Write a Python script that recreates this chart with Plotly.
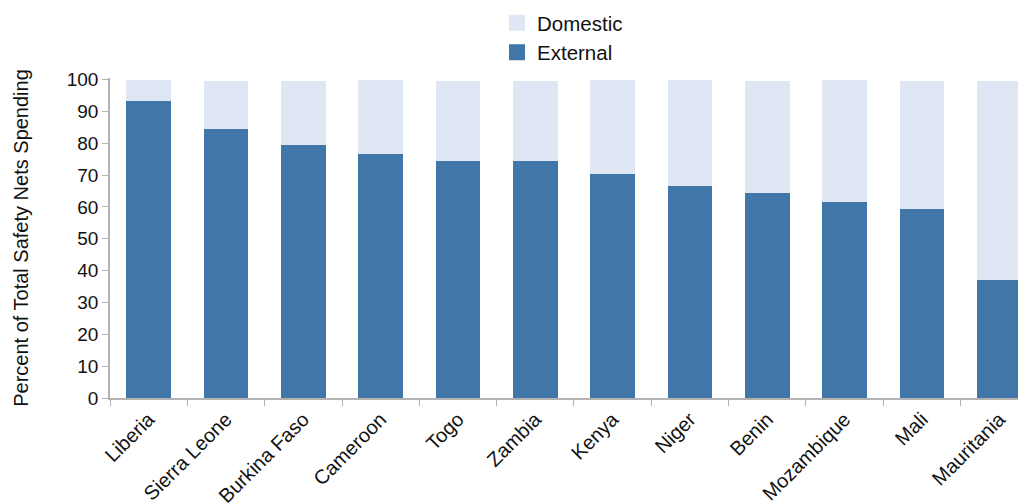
import plotly.graph_objects as go

countries = ["Liberia", "Sierra Leone", "Burkina Faso", "Cameroon", "Togo", "Zambia",
             "Kenya", "Niger", "Benin", "Mozambique", "Mali", "Mauritania"]
external = [93.4, 84.4, 79.4, 76.6, 74.4, 74.4, 70.3, 66.6, 64.4, 61.6, 59.4, 37.2]
domestic = [6.6, 15.1, 20.1, 23.4, 25.1, 25.1, 29.7, 33.4, 35.1, 38.4, 40.1, 62.3]
y_ticks = [0, 10, 20, 30, 40, 50, 60, 70, 80, 90, 100]

FONT = "Liberation Sans, Arial, Helvetica, sans-serif"
C_EXT = "#4177a8"
C_DOM = "#e0e7f4"

fig = go.Figure()
fig.add_trace(go.Bar(x=countries, y=external, name="External", showlegend=False,
                     marker=dict(color=C_EXT, line=dict(width=0)), width=0.58))
fig.add_trace(go.Bar(x=countries, y=domestic, name="Domestic", showlegend=False,
                     marker=dict(color=C_DOM, line=dict(width=0)), width=0.58))
# legend entries with larger square swatches
fig.add_trace(go.Scatter(x=[None], y=[None], mode="markers", name="Domestic",
                         marker=dict(symbol="square", size=18, color=C_DOM)))
fig.add_trace(go.Scatter(x=[None], y=[None], mode="markers", name="External",
                         marker=dict(symbol="square", size=18, color=C_EXT)))

fig.update_layout(
    barmode="stack",
    width=1026, height=504,
    margin=dict(l=102, r=8, t=70, b=114, autoexpand=False),
    paper_bgcolor="white", plot_bgcolor="white",
    font=dict(family=FONT, size=19, color="#111111"),
    legend=dict(orientation="v", traceorder="normal", itemsizing="trace", x=0.4225,
                xanchor="left", y=1.235, yanchor="top", font=dict(size=20.5),
                bgcolor="rgba(0,0,0,0)", itemwidth=30),
    xaxis=dict(range=[-0.5, 11.345], showline=True, linecolor="#b3b3b3", linewidth=1.5,
               ticks="outside", tickson="boundaries", ticklen=6, tickcolor="#b3b3b3",
               tickangle=-45, tickfont=dict(size=20), showgrid=False),
    yaxis=dict(range=[0, 100.5], tickvals=y_ticks, showline=True, linecolor="#b3b3b3",
               linewidth=1.5, ticks="outside", ticklen=6, tickcolor="#b3b3b3",
               tickfont=dict(size=19), showgrid=False, zeroline=False,
               title=dict(text="Percent of Total Safety Nets Spending", font=dict(size=20),
                          standoff=33)),
)

fig.write_html("out.html")
